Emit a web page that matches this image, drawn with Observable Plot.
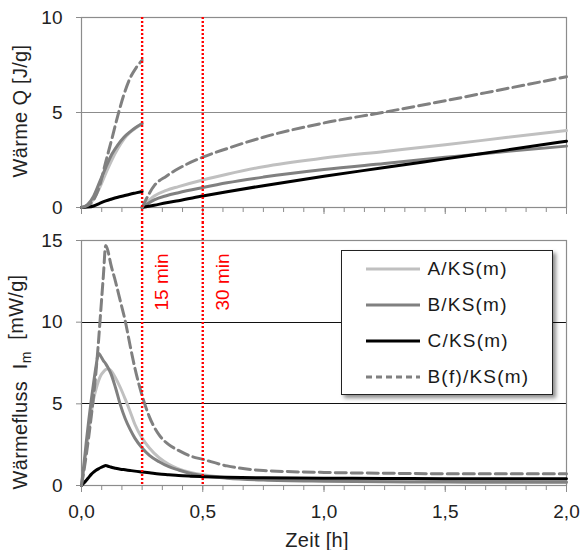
<!DOCTYPE html>
<html>
<head>
<meta charset="utf-8">
<script src="https://cdn.jsdelivr.net/npm/d3@7"></script>
<script src="https://cdn.jsdelivr.net/npm/@observablehq/plot@0.6"></script>
<style>
  body { margin: 0; background: #fff; overflow: hidden; font-family: 'Liberation Sans', Arial, sans-serif; }
  #chart { position: relative; width: 585px; height: 550px; }
  #legend { position: absolute; left: 341px; top: 250px; width: 212px; height: 145px; box-sizing: border-box;
            border: 1.5px solid #222; background: #fff; box-shadow: 3px 3px 4px rgba(0,0,0,0.45); }
  .row { position: absolute; left: 0; width: 100%; height: 36px; display: flex; align-items: center;
         font-size: 19px; letter-spacing: 1.2px; color: #1a1a1a; }
  .row svg { margin-left: 23.5px; margin-right: 8px; flex: none; }
</style>
</head>
<body>
<div id="chart">
  <div id="top"></div>
  <div id="bottom"></div>
  <div id="legend"></div>
</div>
<script>
// ---- Serien ----
const serien = ["A/KS(m)", "B/KS(m)", "C/KS(m)", "B(f)/KS(m)"];

// ---- Wärme Q [J/g], Messung 1 (0–15 min) ----
const tQ1  = [0, 0.025, 0.05, 0.075, 0.1, 0.125, 0.15, 0.175, 0.2, 0.225, 0.25];
const qA1  = [0, 0.08, 0.45, 1.05, 1.8, 2.5, 3.1, 3.6, 3.95, 4.2, 4.4];
const qB1  = [0, 0.15, 0.6, 1.35, 2.1, 2.8, 3.3, 3.7, 3.98, 4.22, 4.42];
const qC1  = [0, 0.02, 0.08, 0.22, 0.35, 0.45, 0.54, 0.62, 0.7, 0.77, 0.84];
const qBf1 = [0, 0.1, 0.4, 1.15, 2.4, 3.6, 4.85, 5.95, 6.8, 7.35, 7.75];

// ---- Wärme Q [J/g], Messung 2 (ab 15 min) ----
const tQ2  = [0.25, 0.3, 0.35, 0.4, 0.5, 0.6, 0.75, 1.0, 1.25, 1.5, 1.75, 2.0];
const qA2  = [0, 0.6, 0.9, 1.1, 1.45, 1.75, 2.15, 2.6, 2.95, 3.3, 3.68, 4.05];
const qB2  = [0, 0.4, 0.62, 0.78, 1.05, 1.3, 1.6, 2.0, 2.32, 2.64, 2.95, 3.23];
const qC2  = [0, 0.12, 0.25, 0.36, 0.6, 0.83, 1.15, 1.65, 2.1, 2.56, 3.02, 3.49];
const qBf2 = [0, 1.15, 1.65, 2.05, 2.65, 3.1, 3.7, 4.45, 5.02, 5.62, 6.25, 6.88];

// ---- Wärmefluss Im [mW/g] ----
const tI  = [0, 0.01, 0.02, 0.03, 0.04, 0.05, 0.06, 0.07, 0.08, 0.09, 0.1, 0.11, 0.12, 0.14, 0.16, 0.18, 0.2, 0.22, 0.25, 0.28, 0.32, 0.36, 0.4, 0.45, 0.5, 0.6, 0.75, 1.0, 1.25, 1.5, 1.75, 2.0];
const iA  = [0, 1.1, 2.2, 3.3, 4.4, 5.3, 5.9, 6.4, 6.75, 6.95, 7.1, 7.15, 7.05, 6.6, 6.0, 5.3, 4.55, 3.75, 2.9, 2.3, 1.7, 1.3, 1.02, 0.8, 0.66, 0.48, 0.38, 0.3, 0.27, 0.25, 0.24, 0.23];
const iB  = [0, 1.3, 2.7, 4.0, 5.2, 6.3, 7.3, 8.1, 7.9, 7.65, 7.45, 7.2, 6.9, 6.0, 4.95, 4.1, 3.45, 2.9, 2.3, 1.85, 1.45, 1.15, 0.95, 0.74, 0.6, 0.45, 0.33, 0.26, 0.23, 0.21, 0.2, 0.2];
const iC  = [0, 0.15, 0.32, 0.5, 0.68, 0.82, 0.93, 1.02, 1.1, 1.17, 1.22, 1.18, 1.13, 1.06, 1.0, 0.96, 0.92, 0.88, 0.83, 0.78, 0.71, 0.66, 0.61, 0.57, 0.54, 0.5, 0.47, 0.45, 0.43, 0.42, 0.42, 0.41];
const iBf = [0, 0.9, 1.9, 3.0, 4.2, 5.5, 7.0, 8.8, 10.8, 12.8, 14.7, 14.3, 13.6, 12.5, 11.3, 10.1, 8.6, 7.2, 5.5, 4.2, 3.1, 2.5, 2.15, 1.8, 1.6, 1.2, 0.92, 0.8, 0.75, 0.72, 0.72, 0.72];

// ---- Achsen / Beschriftungen ----
const qTicks = [0, 5, 10];
const iTicks = [0, 5, 10, 15];
const xTicks = [0, 0.5, 1, 1.5, 2];
const xTickLabels = ["0,0", "0,5", "1,0", "1,5", "2,0"];
const markerTimes = [0.25, 0.5];
const markerLabels = ["15 min", "30 min"];
const yLabelQ = "Wärme Q [J/g]";
const yLabelIParts = ["Wärmefluss  I", "m", "  [mW/g]"];
const xLabel = "Zeit [h]";

// ---- Stil ----
const stil = {
  "A/KS(m)":    {stroke: "#c0c0c0"},
  "B/KS(m)":    {stroke: "#808080"},
  "C/KS(m)":    {stroke: "#000000"},
  "B(f)/KS(m)": {stroke: "#808080", strokeDasharray: "11,5"}
};
const frameGray = "#8c8c8c";
const textCol = "#222";
const font = "'Liberation Sans', Arial, sans-serif";
const minorTicks = d3.range(0, 25).map(i => i / 12);

const rows = (t, v, serie, seg) => t.map((x, i) => ({t: x, v: v[i], serie, seg}));
const qSets = [[qA1, qA2], [qB1, qB2], [qC1, qC2], [qBf1, qBf2]];
const qData = serien.flatMap((s, k) => [
  ...rows(tQ1, qSets[k][0], s, s + "-1"),
  ...rows(tQ2, qSets[k][1], s, s + "-2")
]);
const iSets = [iA, iB, iC, iBf];
const iData = serien.flatMap((s, k) => rows(tI, iSets[k], s, s));

function lines(data) {
  return serien.map(s => Plot.line(data.filter(d => d.serie === s), {
    x: "t", y: "v", z: "seg", stroke: stil[s].stroke, strokeDasharray: stil[s].strokeDasharray,
    strokeWidth: 3, curve: "monotone-x"
  }));
}

const common = {
  width: 585, marginLeft: 81, marginRight: 19,
  x: {domain: [0, 2]},
  style: {fontFamily: font, fontSize: "19px", color: textCol, background: "white", overflow: "visible"}
};

const redRule = {stroke: "#ff0000", strokeWidth: 2.4, strokeDasharray: "2,2"};

// ---- Oberes Diagramm ----
const topPlot = Plot.plot({
  ...common,
  height: 222, marginTop: 17, marginBottom: 15,
  y: {domain: [0, 10]},
  marks: [
    Plot.ruleY(qTicks.filter(d => d > 0), {stroke: frameGray, strokeWidth: 1.2}),
    Plot.frame({stroke: frameGray, strokeWidth: 1.2}),
    Plot.axisY({ticks: qTicks, tickSize: 5, tickPadding: 14, stroke: frameGray, fill: textCol, fontSize: 19, label: null}),
    Plot.axisX({ticks: minorTicks, tickSize: 5, tickFormat: () => "", stroke: frameGray, label: null}),
    Plot.axisX({ticks: xTicks, tickSize: 7, tickFormat: () => "", stroke: frameGray, label: null}),
    ...lines(qData),
    Plot.ruleX(markerTimes, {...redRule, insetBottom: -15}),
    Plot.text([yLabelQ], {frameAnchor: "left", dx: -61, dy: -1.5, rotate: -90, fontSize: 20, fill: textCol,
                          textAnchor: "middle", lineAnchor: "middle"})
  ]
});

// ---- Unteres Diagramm ----
const bottomPlot = Plot.plot({
  ...common,
  height: 328, marginTop: 18, marginBottom: 65,
  y: {domain: [0, 15]},
  marks: [
    Plot.ruleY(iTicks.filter(d => d > 0 && d < 15), {stroke: "#111", strokeWidth: 1.2, shapeRendering: "crispEdges"}),
    Plot.frame({stroke: frameGray, strokeWidth: 1.2}),
    Plot.axisY({ticks: iTicks, tickSize: 5, tickPadding: 14, stroke: frameGray, fill: textCol, fontSize: 19, label: null}),
    Plot.axisX({ticks: minorTicks, tickSize: 5, tickFormat: () => "", stroke: frameGray, label: null}),
    Plot.axisX({ticks: xTicks, tickSize: 7, tickPadding: 12, stroke: frameGray, fill: textCol, fontSize: 19, label: null,
                tickFormat: d => xTickLabels[xTicks.indexOf(d)]}),
    ...lines(iData),
    Plot.ruleX(markerTimes, {...redRule, insetTop: -18}),
    Plot.text(markerLabels, {x: (d, i) => markerTimes[i], frameAnchor: "top", dx: 20, dy: 70, rotate: -90,
                             fill: "#ff0000", fontSize: 19, textAnchor: "start", lineAnchor: "middle"}),
    Plot.text([yLabelIParts.join("")], {frameAnchor: "left", dx: -61, dy: 19, rotate: -90, fontSize: 20, fill: textCol,
                                        textAnchor: "middle", lineAnchor: "middle"}),
    Plot.text([xLabel], {frameAnchor: "bottom", dx: -7, dy: 55, fontSize: 20, fill: textCol,
                         textAnchor: "middle", lineAnchor: "middle"})
  ]
});

document.getElementById("top").appendChild(topPlot);
document.getElementById("bottom").appendChild(bottomPlot);

// Achsentitel: Laufweite, Index
d3.selectAll("#chart svg text")
  .filter(function() { return this.textContent === yLabelQ || this.textContent === xLabel; })
  .style("letter-spacing", "0.3px");
d3.selectAll("#chart svg text")
  .filter(function() { return this.textContent === yLabelIParts.join(""); })
  .each(function() {
    const t = d3.select(this);
    t.text("").style("letter-spacing", "0.3px").style("white-space", "pre");
    t.append("tspan").text(yLabelIParts[0]);
    t.append("tspan").attr("dy", "0.28em").attr("font-size", "14px").text(yLabelIParts[1]);
    t.append("tspan").attr("dy", "-0.4em").text(yLabelIParts[2]);
  });

// ---- Legende ----
const legend = d3.select("#legend");
serien.forEach((s, i) => {
  const row = legend.append("div").attr("class", "row").style("top", (-0.5 + i * 36.2) + "px");
  const svg = row.append("svg").attr("width", 54).attr("height", 6);
  svg.append("line").attr("x1", 0).attr("x2", 54).attr("y1", 3).attr("y2", 3)
    .attr("stroke", stil[s].stroke).attr("stroke-width", 3)
    .attr("stroke-dasharray", stil[s].strokeDasharray ? "6,4" : null);
  row.append("span").text(s);
});
</script>
</body>
</html>
